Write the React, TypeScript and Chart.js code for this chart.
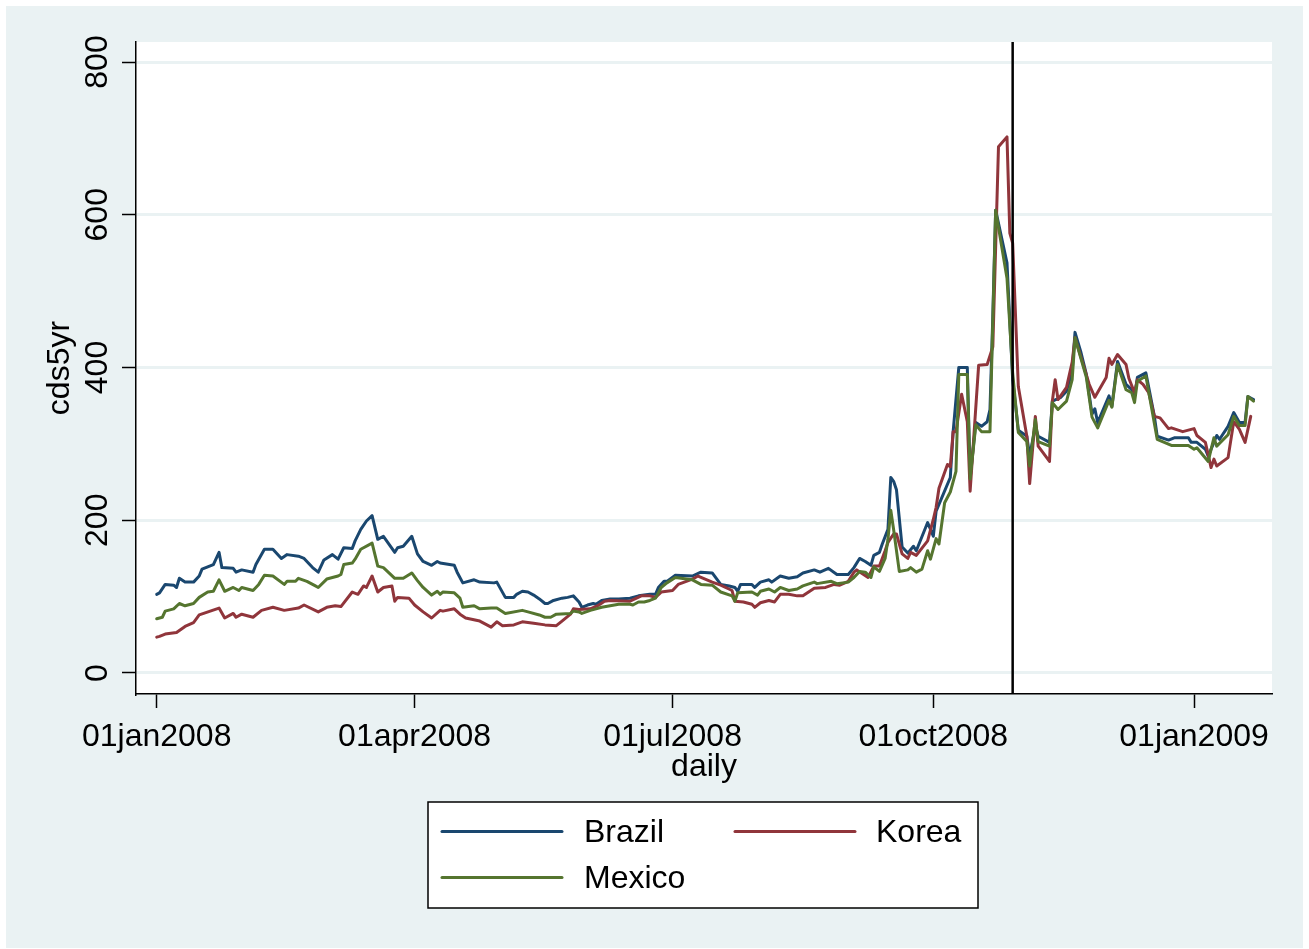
import React, { useEffect, useRef } from "react";
import { Chart, registerables } from "chart.js";

Chart.register(...registerables);

// x axis: days since 01jan2008
const xTickDays = [0, 91, 182, 274, 366];
const xTickLabels = ["01jan2008", "01apr2008", "01jul2008", "01oct2008", "01jan2009"];
const yTickValues = [0, 200, 400, 600, 800];
const eventDay = 302; // 29oct2008 vertical line

const seriesNames = ["Brazil", "Korea", "Mexico"];
const seriesColors = ["#1A476F", "#90353B", "#55752F"];

const brazilDays = [0,1,3,6,7,8,10,13,15,16,20,22,23,27,28,30,34,35,38,41,44,46,50,52,55,57,59,62,64,66,69,70,72,74,76,78,80,84,85,87,90,92,94,97,99,100,105,106,108,112,114,119,120,123,126,127,129,131,133,135,137,138,140,143,145,147,149,150,152,154,155,157,160,163,167,170,172,174,176,177,179,180,183,189,192,196,199,202,204,205,206,210,211,213,216,217,220,223,226,228,232,234,237,240,244,246,248,250,252,253,255,256,258,259,260,261,263,265,267,268,272,274,275,280,281,283,286,287,289,291,293,294,295,296,300,302,304,307,308,310,311,315,316,319,321,323,324,326,328,330,331,332,336,337,339,342,344,345,346,349,352,353,357,359,364,365,367,370,371,374,375,378,380,382,384,385,387];
const brazilValues = [103,105,116,115,112,124,119,119,127,136,142,158,138,137,132,135,132,142,162,162,150,155,153,150,138,132,148,155,149,164,163,173,188,199,206,175,179,158,164,166,179,156,146,141,146,144,141,132,118,122,119,118,119,99,99,103,107,106,102,97,91,91,95,98,99,101,93,86,89,91,90,95,97,97,98,101,102,103,103,112,120,120,128,127,132,131,116,114,112,107,116,116,112,119,122,119,127,124,126,131,135,132,137,129,129,138,150,146,141,154,158,169,188,256,251,240,165,157,166,160,197,179,212,256,316,400,400,256,328,323,329,345,467,606,537,384,318,310,284,323,310,302,356,361,369,395,446,421,391,339,346,328,363,349,408,378,371,362,387,393,336,310,305,308,308,302,302,293,284,311,306,323,341,328,328,362,358];

const koreaDays = [0,1,3,7,10,13,15,22,24,27,28,30,34,37,41,45,50,52,57,60,63,65,69,71,73,74,76,78,80,83,84,85,89,91,94,97,100,101,105,107,109,114,118,120,122,126,129,133,137,141,143,146,147,149,153,156,158,160,167,171,174,176,178,182,184,189,191,196,199,203,204,207,210,211,213,216,218,220,223,226,228,232,236,239,241,244,246,247,251,253,255,257,258,260,261,263,265,266,268,272,274,275,276,279,280,281,282,284,286,287,290,293,295,297,300,301,302,304,307,308,310,311,315,316,317,318,321,323,324,329,331,335,336,337,339,342,343,345,346,348,350,352,354,357,358,362,366,367,370,372,373,374,378,380,382,384,386];
const koreaValues = [47,48,51,53,61,66,76,85,72,78,73,77,73,82,86,82,85,89,80,86,88,87,106,103,114,112,127,106,112,114,94,99,98,89,80,72,82,81,84,77,72,68,60,67,62,63,67,65,63,62,68,77,84,83,84,89,94,95,94,101,101,99,106,108,116,123,127,119,115,108,94,93,90,86,92,95,93,103,103,101,101,111,112,116,115,120,132,135,125,140,140,160,171,182,182,156,150,158,154,173,201,217,242,273,270,316,316,365,329,238,403,404,427,689,702,576,563,375,310,248,336,297,277,356,384,358,374,407,439,378,361,387,412,404,417,404,386,367,384,378,367,336,334,320,321,316,320,311,302,269,280,271,282,329,319,302,336];

const mexicoDays = [0,2,3,6,8,10,13,15,18,20,22,24,27,29,30,34,36,38,41,45,46,49,50,53,56,57,60,64,65,66,69,70,72,76,78,80,84,87,90,92,94,97,99,100,101,105,107,108,112,114,118,120,123,129,131,135,137,139,141,146,147,149,150,153,155,157,160,163,167,168,170,172,174,176,178,180,183,189,192,196,199,203,204,205,210,212,213,216,218,220,223,226,228,232,233,238,240,244,246,248,250,252,253,255,257,258,259,260,262,265,266,268,270,272,273,275,276,278,280,282,283,286,287,289,291,294,296,300,302,304,307,308,310,311,315,316,318,321,323,324,328,330,332,336,337,339,342,344,345,346,349,353,358,364,366,367,371,373,374,378,380,382,384,385,387];
const mexicoValues = [71,73,81,84,91,88,91,99,106,107,122,107,112,108,112,108,116,128,127,116,120,120,124,120,114,112,123,127,129,142,144,149,162,170,140,138,124,124,131,121,112,102,107,103,106,105,98,86,88,84,85,85,78,82,80,76,73,73,77,78,81,80,78,82,84,86,88,90,90,89,93,93,95,98,112,118,125,122,116,115,106,101,94,105,106,102,107,110,106,112,108,110,114,119,117,120,117,119,125,133,132,125,139,133,150,175,213,188,133,135,138,132,136,160,149,176,169,223,237,264,391,391,254,325,316,316,606,517,393,315,303,271,332,303,297,354,345,356,384,439,387,335,321,357,348,404,371,367,354,382,389,306,298,298,293,295,277,308,297,312,336,324,324,362,356];

const FONT = "'Liberation Sans', Arial, Helvetica, sans-serif";

const toPoints = (days: number[], values: number[]) =>
  days.map((d, i) => ({ x: d, y: values[i] }));

const stataPlugin = {
  id: "stataDecor",
  beforeDraw(chart: any) {
    const { ctx, chartArea } = chart;
    ctx.save();
    ctx.fillStyle = "#ffffff";
    ctx.fillRect(0, 0, chart.width, chart.height);
    ctx.fillStyle = "#EAF2F3";
    ctx.fillRect(6, 6, chart.width - 12, chart.height - 7);
    ctx.fillStyle = "#ffffff";
    ctx.fillRect(chartArea.left, chartArea.top, chartArea.right - chartArea.left, chartArea.bottom - chartArea.top);
    ctx.restore();
  },
  afterDatasetsDraw(chart: any) {
    const { ctx, chartArea, scales } = chart;
    const x = scales.x.getPixelForValue(eventDay);
    ctx.save();
    ctx.strokeStyle = "#000000";
    ctx.lineWidth = 2.5;
    ctx.beginPath();
    ctx.moveTo(x, chartArea.top);
    ctx.lineTo(x, chartArea.bottom);
    ctx.stroke();
    ctx.restore();
  },
  afterDraw(chart: any) {
    const { ctx, scales } = chart;
    // y tick labels, rotated like Stata
    ctx.save();
    ctx.fillStyle = "#000";
    ctx.font = `32px ${FONT}`;
    ctx.textAlign = "center";
    ctx.textBaseline = "middle";
    scales.y.ticks.forEach((t: any) => {
      const y = scales.y.getPixelForValue(t.value);
      ctx.save();
      ctx.translate(98.5, y);
      ctx.rotate(-Math.PI / 2);
      ctx.fillText(String(t.value), 0, 0);
      ctx.restore();
    });
    ctx.restore();

    // legend box
    const ds = chart.data.datasets;
    ctx.save();
    ctx.fillStyle = "#ffffff";
    ctx.fillRect(428, 802, 550, 106);
    ctx.strokeStyle = "#000";
    ctx.lineWidth = 1.5;
    ctx.strokeRect(428, 802, 550, 106);
    const slots = [
      { lx: 442, ly: 831.5, tx: 584 },
      { lx: 735, ly: 831.5, tx: 876 },
      { lx: 442, ly: 877.5, tx: 584 },
    ];
    ds.forEach((d: any, i: number) => {
      const s = slots[i];
      ctx.strokeStyle = d.borderColor;
      ctx.lineWidth = 3;
      ctx.lineCap = "round";
      ctx.beginPath();
      ctx.moveTo(s.lx, s.ly);
      ctx.lineTo(s.lx + 120, s.ly);
      ctx.stroke();
      ctx.fillStyle = "#000";
      ctx.font = `32px ${FONT}`;
      ctx.textAlign = "left";
      ctx.textBaseline = "middle";
      ctx.fillText(d.label, s.tx, s.ly + 2);
    });
    ctx.restore();
  },
};

export default function App() {
  const canvasRef = useRef<HTMLCanvasElement | null>(null);

  useEffect(() => {
    const canvas = canvasRef.current;
    if (!canvas) return;
    const dataSets = [
      toPoints(brazilDays, brazilValues),
      toPoints(koreaDays, koreaValues),
      toPoints(mexicoDays, mexicoValues),
    ];
    const chart = new Chart(canvas, {
      type: "line",
      data: {
        datasets: seriesNames.map((name, i) => ({
          label: name,
          data: dataSets[i],
          borderColor: seriesColors[i],
          backgroundColor: seriesColors[i],
          borderWidth: 3,
          borderJoinStyle: "round",
          borderCapStyle: "round",
          pointRadius: 0,
          tension: 0,
          fill: false,
          order: 3 - i,
        })),
      },
      options: {
        animation: false,
        responsive: false,
        devicePixelRatio: 1,
        layout: { padding: { top: 42, right: 37, left: 0, bottom: 0 } },
        plugins: {
          legend: { display: false },
          tooltip: { enabled: false },
        },
        scales: {
          x: {
            type: "linear",
            min: -7.3,
            max: 393.5,
            afterBuildTicks: (s: any) => {
              s.ticks = xTickDays.map((v) => ({ value: v }));
            },
            afterFit: (s: any) => {
              s.height = 255;
            },
            ticks: {
              autoSkip: false,
              maxRotation: 0,
              minRotation: 0,
              padding: 10,
              color: "#000",
              font: { family: FONT, size: 32 },
              callback: (_v: any, i: number) => xTickLabels[i],
            },
            grid: {
              drawOnChartArea: false,
              drawTicks: true,
              tickLength: 14,
              tickColor: "#000",
              tickWidth: 1.5,
            },
            border: { display: true, color: "#000", width: 1.5 },
            title: {
              display: true,
              text: "daily",
              color: "#000",
              font: { family: FONT, size: 32 },
              padding: { top: 0, bottom: 163 },
            },
          },
          y: {
            type: "linear",
            min: -27.5,
            max: 826.2,
            afterBuildTicks: (s: any) => {
              s.ticks = yTickValues.map((v) => ({ value: v }));
            },
            afterFit: (s: any) => {
              s.width = 136;
            },
            ticks: { display: false },
            grid: {
              color: "#EAF2F3",
              lineWidth: 3,
              drawTicks: true,
              tickLength: 14,
              tickColor: "#000",
              tickWidth: 1.5,
            },
            border: { display: true, color: "#000", width: 1.5 },
            title: {
              display: true,
              text: "cds5yr",
              color: "#000",
              font: { family: FONT, size: 32 },
              padding: { top: 41, bottom: 0 },
            },
          },
        },
      },
      plugins: [stataPlugin],
    } as any);
    return () => chart.destroy();
  }, []);

  return (
    <canvas
      ref={canvasRef}
      width={1309}
      height={949}
      style={{ position: "absolute", left: 0, top: 0, width: 1309, height: 949 }}
    />
  );
}
